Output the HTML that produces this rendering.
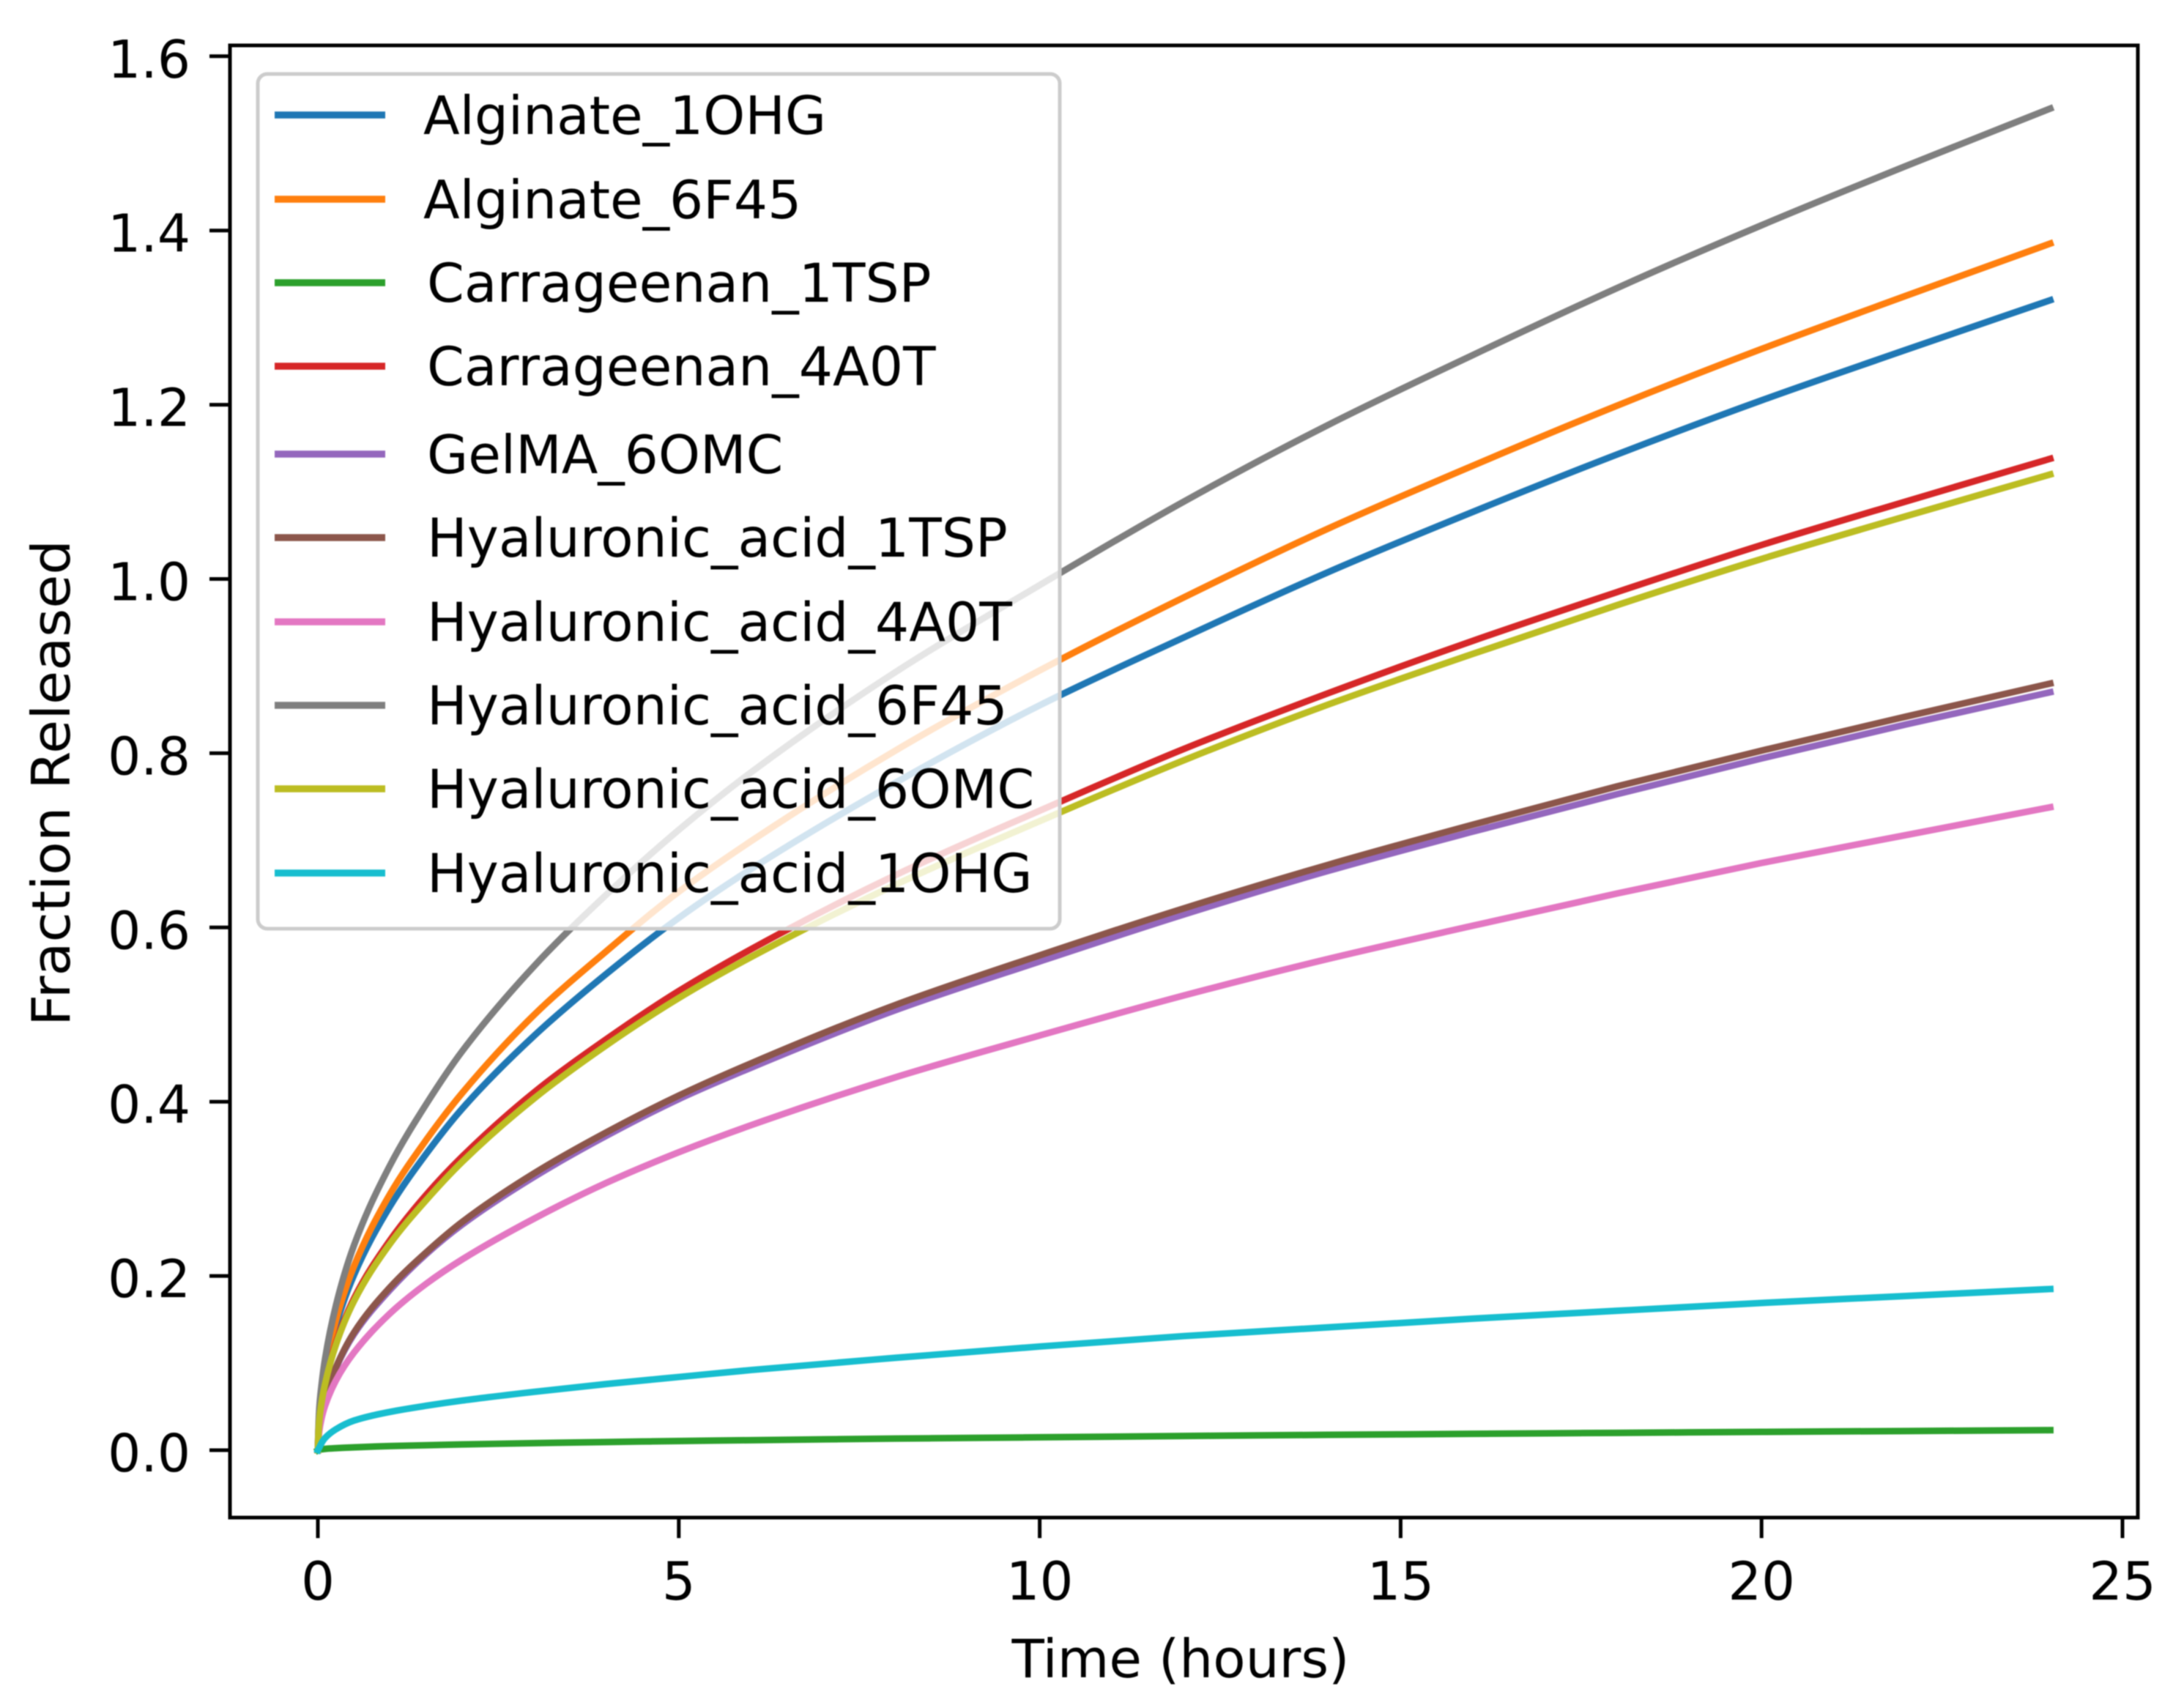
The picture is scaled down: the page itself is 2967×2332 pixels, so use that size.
<!DOCTYPE html>
<html lang="en">
<head>
<meta charset="utf-8">
<title>Fraction Released vs Time</title>
<style>
html,body{margin:0;padding:0;background:#fff;}
svg{display:block;filter:blur(0.9px);}
text{font-family:"DejaVu Sans","Liberation Sans",sans-serif;fill:#000;}
</style>
</head>
<body>
<svg id="chart" xmlns="http://www.w3.org/2000/svg" width="2967" height="2332" viewBox="0 0 2967 2332">
  <rect x="0" y="0" width="2967" height="2332" fill="#fff"/>
  <g id="series-layer"></g>
  <g>
    <rect x="352" y="101" width="1095" height="1167" rx="13" ry="13" fill="#fff" fill-opacity="0.8" stroke="#cccccc" stroke-width="5"/>
    <g><line x1="375" x2="526" y1="157" y2="157" stroke="#1f77b4" stroke-width="9.5"/><text x="578" y="183" font-size="72.6">Alginate_1OHG</text></g>
    <g><line x1="375" x2="526" y1="272" y2="272" stroke="#ff7f0e" stroke-width="9.5"/><text x="578" y="298" font-size="72.6">Alginate_6F45</text></g>
    <g><line x1="375" x2="526" y1="386" y2="386" stroke="#2ca02c" stroke-width="9.5"/><text x="583" y="412" font-size="72.8">Carrageenan_1TSP</text></g>
    <g><line x1="375" x2="526" y1="500" y2="500" stroke="#d62728" stroke-width="9.5"/><text x="583" y="526" font-size="72.8">Carrageenan_4A0T</text></g>
    <g><line x1="375" x2="526" y1="620" y2="620" stroke="#9467bd" stroke-width="9.5"/><text x="583" y="646" font-size="72.6">GelMA_6OMC</text></g>
    <g><line x1="375" x2="526" y1="734" y2="734" stroke="#8c564b" stroke-width="9.5"/><text x="583" y="760" font-size="72.8">Hyaluronic_acid_1TSP</text></g>
    <g><line x1="375" x2="526" y1="849" y2="849" stroke="#e377c2" stroke-width="9.5"/><text x="583" y="875" font-size="72.8">Hyaluronic_acid_4A0T</text></g>
    <g><line x1="375" x2="526" y1="963" y2="963" stroke="#7f7f7f" stroke-width="9.5"/><text x="583" y="989" font-size="72.8">Hyaluronic_acid_6F45</text></g>
    <g><line x1="375" x2="526" y1="1077" y2="1077" stroke="#bcbd22" stroke-width="9.5"/><text x="583" y="1103" font-size="72.8">Hyaluronic_acid_6OMC</text></g>
    <g><line x1="375" x2="526" y1="1192" y2="1192" stroke="#17becf" stroke-width="9.5"/><text x="583" y="1218" font-size="72.8">Hyaluronic_acid_1OHG</text></g>
  </g>
  <g id="tick-layer"></g>
  <rect x="314" y="62" width="2605" height="2010" fill="none" stroke="#000" stroke-width="5"/>
  <text x="1612" y="2290" font-size="72.5" text-anchor="middle">Time (hours)</text>
  <text transform="translate(95,1069) rotate(-90)" font-size="72" text-anchor="middle" textLength="664" lengthAdjust="spacingAndGlyphs">Fraction Released</text>
</svg>
<script>
const times = [0,0.02,0.05,0.1,0.25,0.5,1,1.5,2,3,4,5,6,8,10,12,14,16,18,20,22,24];
const alginate1OHG = [0,0.040,0.064,0.090,0.143,0.201,0.280,0.340,0.392,0.476,0.547,0.611,0.667,0.766,0.855,0.933,1.008,1.077,1.143,1.205,1.263,1.32];
const alginate6F45 = [0,0.042,0.067,0.094,0.149,0.211,0.294,0.356,0.410,0.500,0.573,0.641,0.699,0.803,0.895,0.979,1.058,1.130,1.199,1.264,1.325,1.385];
const carrageenan1TSP = [0,0.0007,0.001,0.0015,0.0023,0.0033,0.0047,0.0057,0.0066,0.0081,0.0094,0.0105,0.0115,0.0133,0.0148,0.0163,0.0176,0.0188,0.0199,0.021,0.022,0.023];
const carrageenan4A0T = [0,0.035,0.055,0.077,0.123,0.174,0.241,0.293,0.337,0.411,0.472,0.527,0.575,0.660,0.734,0.805,0.869,0.929,0.985,1.039,1.089,1.138];
const gelMA6OMC = [0,0.027,0.042,0.059,0.094,0.133,0.184,0.225,0.259,0.314,0.361,0.403,0.439,0.505,0.561,0.615,0.665,0.710,0.753,0.794,0.833,0.87];
const hyaluronic1TSP = [0,0.027,0.042,0.060,0.095,0.135,0.187,0.227,0.262,0.318,0.365,0.407,0.444,0.511,0.568,0.622,0.672,0.718,0.762,0.803,0.842,0.88];
const hyaluronic4A0T = [0,0.022,0.036,0.051,0.080,0.112,0.157,0.191,0.219,0.266,0.307,0.342,0.373,0.428,0.476,0.522,0.564,0.602,0.639,0.674,0.706,0.738];
const hyaluronic6F45 = [0,0.048,0.074,0.105,0.166,0.235,0.327,0.397,0.458,0.556,0.638,0.712,0.778,0.893,0.993,1.089,1.177,1.257,1.334,1.406,1.474,1.54];
const hyaluronic6OMC = [0,0.034,0.054,0.076,0.121,0.171,0.237,0.287,0.331,0.404,0.465,0.519,0.566,0.649,0.722,0.792,0.856,0.914,0.970,1.023,1.072,1.12];
const hyaluronic1OHG = [0,0.003,0.008,0.014,0.024,0.034,0.044,0.051,0.057,0.067,0.076,0.084,0.092,0.106,0.119,0.131,0.141,0.151,0.160,0.169,0.177,0.185];
const xTickValues = [0,5,10,15,20,25];
const yTickValues = [0,0.2,0.4,0.6,0.8,1.0,1.2,1.4,1.6];

const NS = 'http://www.w3.org/2000/svg';
function xScale(t){ return 434 + t * 98.56; }
function yScale(v){ return 1980 - v * 1189.5; }

function curvePath(values){
  const n = values.length;
  const px = times.map(xScale);
  const py = values.map(yScale);
  const slope = [];
  for (let i = 0; i < n - 1; i++) { slope.push((py[i + 1] - py[i]) / (px[i + 1] - px[i])); }
  const tan = [slope[0] * 1.5];
  for (let i = 1; i < n - 1; i++) {
    const h0 = px[i] - px[i - 1];
    const h1 = px[i + 1] - px[i];
    const w0 = 2 * h1 + h0;
    const w1 = h1 + 2 * h0;
    tan.push((w0 + w1) / (w0 / slope[i - 1] + w1 / slope[i]));
  }
  tan.push(slope[n - 2]);
  let d = 'M' + px[0].toFixed(2) + ' ' + py[0].toFixed(2);
  for (let i = 0; i < n - 1; i++) {
    const h = (px[i + 1] - px[i]) / 3;
    d += 'C' + (px[i] + h).toFixed(2) + ' ' + (py[i] + tan[i] * h).toFixed(2) + ' ' +
         (px[i + 1] - h).toFixed(2) + ' ' + (py[i + 1] - tan[i + 1] * h).toFixed(2) + ' ' +
         px[i + 1].toFixed(2) + ' ' + py[i + 1].toFixed(2);
  }
  return d;
}

function drawSeries(values, color, name){
  const p = document.createElementNS(NS, 'path');
  p.setAttribute('d', curvePath(values));
  p.setAttribute('fill', 'none');
  p.setAttribute('stroke', color);
  p.setAttribute('stroke-width', '9');
  p.setAttribute('stroke-linejoin', 'round');
  p.setAttribute('stroke-linecap', 'square');
  
  
  document.getElementById('series-layer').appendChild(p);
}
drawSeries(alginate1OHG, '#1f77b4', 'line-alginate-1ohg');
drawSeries(alginate6F45, '#ff7f0e', 'line-alginate-6f45');
drawSeries(carrageenan1TSP, '#2ca02c', 'line-carrageenan-1tsp');
drawSeries(carrageenan4A0T, '#d62728', 'line-carrageenan-4a0t');
drawSeries(gelMA6OMC, '#9467bd', 'line-gelma-6omc');
drawSeries(hyaluronic1TSP, '#8c564b', 'line-hyaluronic-acid-1tsp');
drawSeries(hyaluronic4A0T, '#e377c2', 'line-hyaluronic-acid-4a0t');
drawSeries(hyaluronic6F45, '#7f7f7f', 'line-hyaluronic-acid-6f45');
drawSeries(hyaluronic6OMC, '#bcbd22', 'line-hyaluronic-acid-6omc');
drawSeries(hyaluronic1OHG, '#17becf', 'line-hyaluronic-acid-1ohg');

const tickLayer = document.getElementById('tick-layer');
xTickValues.forEach(function(v){
  const x = xScale(v);
  const m = document.createElementNS(NS, 'line');
  m.setAttribute('x1', x);
  m.setAttribute('x2', x);
  m.setAttribute('y1', 2072);
  m.setAttribute('y2', 2100);
  m.setAttribute('stroke', '#000');
  m.setAttribute('stroke-width', '5');
  
  
  tickLayer.appendChild(m);
  const t = document.createElementNS(NS, 'text');
  t.setAttribute('x', x);
  t.setAttribute('y', 2184);
  t.setAttribute('font-size', '72');
  t.setAttribute('text-anchor', 'middle');
  t.textContent = String(v);
  
  
  tickLayer.appendChild(t);
});
yTickValues.forEach(function(v){
  const y = yScale(v);
  const m = document.createElementNS(NS, 'line');
  m.setAttribute('x1', 286);
  m.setAttribute('x2', 314);
  m.setAttribute('y1', y);
  m.setAttribute('y2', y);
  m.setAttribute('stroke', '#000');
  m.setAttribute('stroke-width', '5');
  
  
  tickLayer.appendChild(m);
  const t = document.createElementNS(NS, 'text');
  t.setAttribute('x', 260);
  t.setAttribute('y', y + 29);
  t.setAttribute('font-size', '71');
  t.setAttribute('text-anchor', 'end');
  t.textContent = v.toFixed(1);
  
  
  tickLayer.appendChild(t);
});
</script>
</body>
</html>
